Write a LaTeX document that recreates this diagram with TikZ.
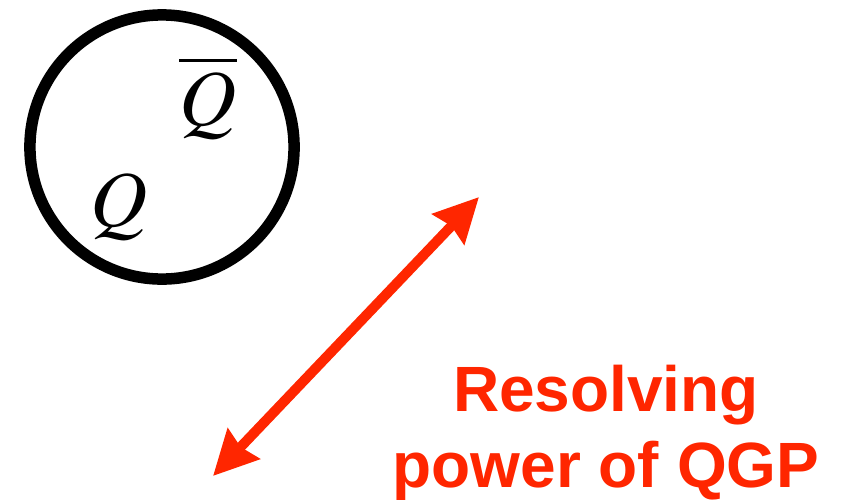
\documentclass[tikz,border=0pt]{standalone}
\usepackage{mathptmx}
\usepackage{fontspec}
\newfontfamily\lblfont{Liberation Sans}
\usetikzlibrary{arrows.meta,positioning}
\definecolor{kred}{RGB}{255,38,0}

\begin{document}
\begin{tikzpicture}[
    x=0.01cm, y=-0.01cm,
    blob/.style={draw=black, line width=0.115cm, circle, minimum size=2.64cm, inner sep=0pt},
    qrk/.style={font=\fontsize{22.5}{22.5}\selectfont, inner sep=0pt, anchor=base},
    dbl/.style={{Stealth[length=0.44cm, width=0.43cm, inset=0.04cm]}-{Stealth[length=0.44cm, width=0.43cm, inset=0.04cm]}, line width=0.1cm, draw=kred},
    lbl/.style={font=\lblfont\bfseries\fontsize{18.2}{21.6}\selectfont, text=kred, align=center, inner sep=0pt}
]
\useasboundingbox (0,0) rectangle (845,500);
\node[blob] (bag) at (162,147) {};
\node[qrk] (qb) at (208,125) {$\overline{Q}$};
\node[qrk] (q) at (119,226) {$Q$};
\coordinate (lo) at (213,476);
\coordinate (hi) at (479,197);
\draw[dbl] (lo) -- (hi);
\node[lbl, anchor=base] (res) at (606,487) {Resolving\\power of QGP};
\end{tikzpicture}
\end{document}
